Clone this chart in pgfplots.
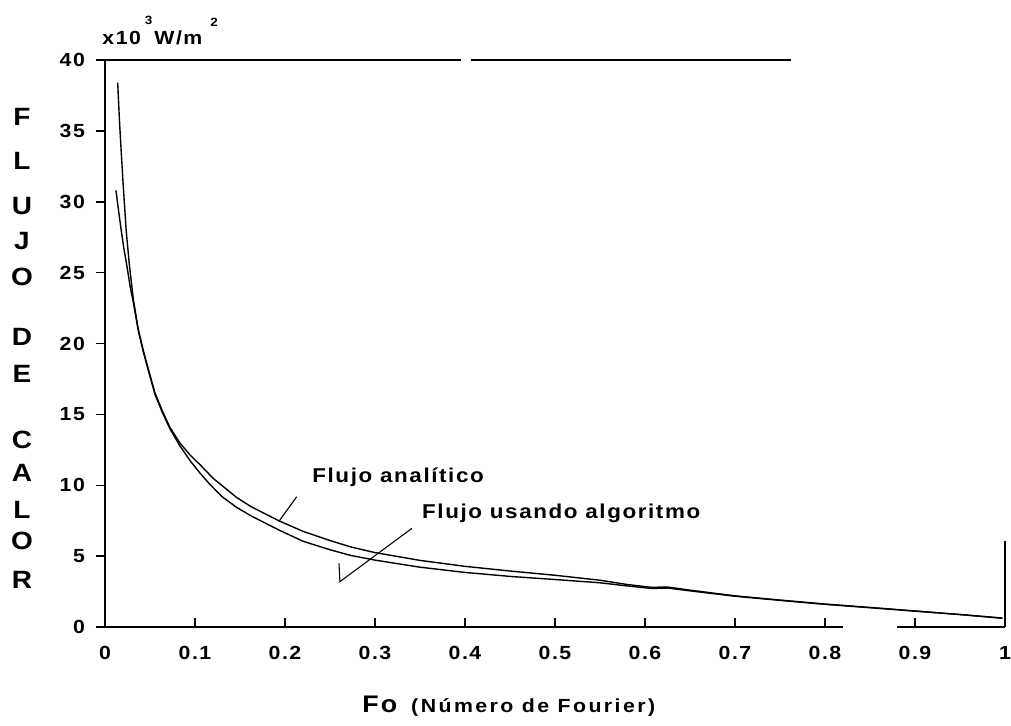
\documentclass[border=0pt]{standalone}
\usepackage{fontspec}
\setmainfont{Liberation Sans}[FakeStretch=1.12, LetterSpace=8]
\usepackage{pgfplots}
\pgfplotsset{compat=1.18}
\begin{document}
\begin{tikzpicture}
\path[use as bounding box] (-52.5pt,-49pt) rectangle (453pt,313.5pt);
\begin{axis}[
  at={(0pt,0pt)}, anchor=south west,
  scale only axis, width=450pt, height=283.5pt,
  xmin=0, xmax=1, ymin=0, ymax=40,
  axis lines*=left,
  axis line style={-, line width=0.75pt},
  x axis line style={draw=none},
  xtick={0,0.1,0.2,0.3,0.4,0.5,0.6,0.7,0.8,0.9,1},
  xticklabels={0,0.1,0.2,0.3,0.4,0.5,0.6,0.7,0.8,0.9,1},
  ytick={0,5,10,15,20,25,30,35,40},
  yticklabels={0,5,10,15,20,25,30,35,40},
  tick label style={font=\fontsize{9.5}{10}\selectfont\bfseries},
  xticklabel style={yshift=-6pt},
  yticklabel style={xshift=-6.5pt},
  tick align=inside,
  major tick length=4.5pt,
  tick style={line width=0.75pt, black},
  y tick style={xshift=-4.5pt},
  clip=false,
]
\addplot[black, line width=0.7pt] coordinates {
(0.0141,38.4) (0.0160,35.8) (0.0174,34.2) (0.0203,31.1) (0.0235,28.0)
(0.0270,25.6) (0.0315,23.1) (0.0370,21.0) (0.0426,19.5) (0.0490,18.0)
(0.0556,16.5) (0.0640,15.2) (0.0720,14.1) (0.0830,13.0) (0.0950,12.1)
(0.1056,11.45) (0.120,10.5) (0.146,9.15) (0.162,8.5) (0.193,7.5)
(0.22,6.75) (0.25,6.1) (0.273,5.65) (0.30,5.25) (0.35,4.7) (0.40,4.28)
(0.45,3.95) (0.50,3.65) (0.55,3.3) (0.58,3.0) (0.607,2.8) (0.625,2.82)
(0.65,2.6) (0.70,2.2) (0.75,1.9) (0.80,1.62) (0.85,1.38) (0.90,1.13)
(0.95,0.88) (0.997,0.63)
};
\addplot[black, line width=0.7pt] coordinates {
(0.0122,30.8) (0.0150,29.4) (0.0180,28.0) (0.0210,26.7) (0.0240,25.6)
(0.0280,24.0) (0.0315,22.9) (0.0370,20.9) (0.0426,19.4) (0.0490,17.9)
(0.0556,16.4) (0.0640,15.1) (0.0720,14.0) (0.0830,12.8) (0.0950,11.7)
(0.1050,10.9) (0.1160,10.1) (0.1300,9.2) (0.1460,8.45) (0.1620,7.85)
(0.1930,6.85) (0.22,6.05) (0.25,5.45) (0.273,5.05) (0.30,4.72) (0.35,4.22)
(0.40,3.85) (0.45,3.57) (0.50,3.35) (0.55,3.12) (0.58,2.9) (0.607,2.72)
(0.625,2.75) (0.65,2.55) (0.70,2.17) (0.75,1.88) (0.80,1.6) (0.85,1.36)
(0.90,1.12) (0.95,0.88) (0.997,0.62)
};
% broken frame lines of the original
\draw[line width=0.75pt] (axis cs:0,0) -- (axis cs:0.82,0);
\draw[line width=0.75pt] (axis cs:0.88,0) -- (axis cs:1,0);
\draw[line width=0.75pt] (axis cs:0,40) -- (axis cs:0.395,40);
\draw[line width=0.75pt] (axis cs:0.407,40) -- (axis cs:0.762,40);
\draw[line width=0.75pt] (axis cs:1,0) -- (axis cs:1,6.1);
% leader lines
\draw[line width=0.55pt] (axis cs:0.213,9.19) -- (axis cs:0.193,7.43);
\draw[line width=0.55pt] (axis cs:0.341,6.96) -- (axis cs:0.261,3.20) -- (axis cs:0.260,4.49);
% annotations
\node[anchor=base west, inner sep=0pt, font=\fontsize{10}{12}\selectfont\bfseries] at (axis cs:0.23,10.23) {Flujo analítico};
\node[anchor=base west, inner sep=0pt, font=\fontsize{10}{12}\selectfont\bfseries] at (axis cs:0.352,7.69) {Flujo usando algoritmo};
\node[anchor=base west, inner sep=0pt, font=\fontsize{9.5}{12}\selectfont\bfseries] at (axis cs:-0.0033,41.06) {x10\hspace{2pt}\raisebox{10pt}{\fontsize{6}{7}\selectfont\bfseries 3}\hspace{1pt}W/m\hspace{4pt}\raisebox{9pt}{\fontsize{6}{7}\selectfont\bfseries 2}};
\node[anchor=base west, inner sep=0pt] at (axis cs:0.2856,-6.0) {{\fontsize{12}{14}\selectfont\bfseries Fo}\hspace{7pt}{\fontsize{9.5}{11}\selectfont\bfseries\addfontfeatures{LetterSpace=13}(Número de Fourier)}};
% vertical y label
\node[inner sep=0pt, font=\fontsize{12.5}{14}\selectfont\bfseries] at (axis cs:-0.0922,35.98) {F};
\node[inner sep=0pt, font=\fontsize{12.5}{14}\selectfont\bfseries] at (axis cs:-0.0922,32.87) {L};
\node[inner sep=0pt, font=\fontsize{12.5}{14}\selectfont\bfseries] at (axis cs:-0.0922,29.70) {U};
\node[inner sep=0pt, font=\fontsize{12.5}{14}\selectfont\bfseries] at (axis cs:-0.0922,27.23) {J};
\node[inner sep=0pt, font=\fontsize{12.5}{14}\selectfont\bfseries] at (axis cs:-0.0922,24.69) {O};
\node[inner sep=0pt, font=\fontsize{12.5}{14}\selectfont\bfseries] at (axis cs:-0.0922,20.46) {D};
\node[inner sep=0pt, font=\fontsize{12.5}{14}\selectfont\bfseries] at (axis cs:-0.0922,17.85) {E};
\node[inner sep=0pt, font=\fontsize{12.5}{14}\selectfont\bfseries] at (axis cs:-0.0922,13.19) {C};
\node[inner sep=0pt, font=\fontsize{12.5}{14}\selectfont\bfseries] at (axis cs:-0.0922,10.86) {A};
\node[inner sep=0pt, font=\fontsize{12.5}{14}\selectfont\bfseries] at (axis cs:-0.0922,8.25) {L};
\node[inner sep=0pt, font=\fontsize{12.5}{14}\selectfont\bfseries] at (axis cs:-0.0922,6.07) {O};
\node[inner sep=0pt, font=\fontsize{12.5}{14}\selectfont\bfseries] at (axis cs:-0.0922,3.32) {R};
\end{axis}
\end{tikzpicture}
\end{document}
